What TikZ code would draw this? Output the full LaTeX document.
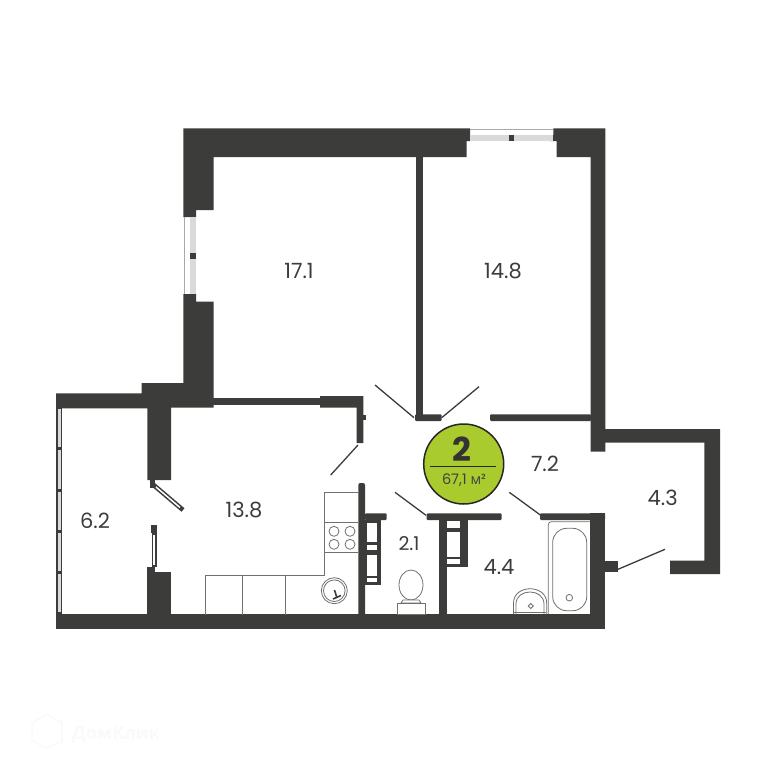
\documentclass[tikz,border=0pt]{standalone}
\usepackage{fontspec}
\setmainfont{Poppins}
\newfontfamily\cyr{Open Sans}
\definecolor{wallc}{HTML}{3C3C3B}
\definecolor{glass}{HTML}{DADADA}
\definecolor{fixt}{HTML}{707070}
\definecolor{badge}{HTML}{A9CB2E}
\definecolor{wm}{HTML}{FAFAFA}
\tikzset{
  wall/.style={fill=wallc,draw=none},
  glazing/.style={fill=glass,draw=none},
  blank/.style={fill=white,draw=none},
  doorleaf/.style={draw=wallc,line width=1.3pt},
  fixture/.style={draw=fixt,line width=0.8pt,fill=none},
  arealabel/.style={text=wallc,font=\fontsize{21}{21}\selectfont,inner sep=0pt},
}
\begin{document}
\begin{tikzpicture}[x=1pt,y=-1pt]
\useasboundingbox (0,0) rectangle (768,768);
\fill[white] (0,0) rectangle (768,768);
% top and main walls
\fill[wall] (183.3,128.3) -- (470,128.3) -- (470,141) -- (466.7,141) -- (466.7,157) -- (213.5,157) -- (213.5,210) -- (196,210) -- (196,217) -- (183.3,217) -- cycle;
\fill[wall] (553.3,128.3) -- (605.3,128.3) -- (605.3,451.7) -- (590.7,451.7) -- (590.7,157) -- (556.7,157) -- (556.7,141) -- (550,141) -- (550,135) -- (553.3,135) -- cycle;
% left wall lower pier and junction
\fill[wall] (183.3,294) -- (196,294) -- (196,301.7) -- (213.5,301.7) -- (213.5,407.7) -- (171,407.7) -- (171,480) -- (147.3,480) -- (147.3,408.3) -- (56,408.3) -- (56,393.3) -- (141.7,393.3) -- (141.7,383) -- (183.3,383) -- cycle;
% windows
\fill[glazing] (190,217) rectangle (196,294);
\fill[wall] (190,253) rectangle (196,259);
\draw[fixt!60,line width=0.6pt] (184.3,217) -- (184.3,294);
\fill[glazing] (470,135) rectangle (553,140.7);
\fill[wall] (508.5,135) rectangle (513.5,140.7);
\draw[fixt!60,line width=0.6pt] (470,129.5) -- (553,129.5);
% partition bedrooms
\fill[wall] (416,157) rectangle (422.7,415);
\fill[wall,rounded corners=1pt] (415,414.3) rectangle (441.7,421);
\fill[wall,rounded corners=1pt] (490,414.3) rectangle (591,421);
% kitchen top wall
\fill[wall] (213,397.7) rectangle (320,405);
\fill[wall] (320,396) -- (363.3,396) -- (363.3,443) -- (356.7,443) -- (356.7,407.7) -- (320,407.7) -- cycle;
\fill[wall] (363,415) rectangle (366,420);
% loggia
\fill[wall] (605,429) -- (720,429) -- (720,574) -- (670,574) -- (670,560.7) -- (704.3,560.7) -- (704.3,442.7) -- (605,442.7) -- cycle;
% bottom wall
\fill[wall] (56,614.3) rectangle (605,629);
% balcony glazing
\fill[wall] (56,408) rectangle (61.7,615);
\fill[glazing] (57.5,408.5) rectangle (60.5,447);
\fill[glazing] (57.5,450) rectangle (60.5,489);
\fill[glazing] (57.5,492) rectangle (60.5,530);
\fill[glazing] (57.5,533) rectangle (60.5,571);
\fill[glazing] (57.5,574) rectangle (60.5,612);
% balcony door pier
\fill[wall] (147.3,571.7) rectangle (171,615);
\fill[wall] (147.3,566.7) rectangle (155,572);
\fill[wall] (150,480) rectangle (155,488);
\draw[wallc,line width=4.6pt] (153,484.5) -- (183,510);
\draw[white,line width=1.5pt] (156,487) -- (180,507.5);
\fill[wall] (151,525) rectangle (156.7,533);
\fill[wall] (151.7,533) rectangle (157,567);
\fill[blank] (153.4,535) rectangle (155.3,565);
% kitchen right wall and vent
\fill[wall,rounded corners=2pt] (358.3,483) rectangle (365,616);
\fill[wall,rounded corners=1pt] (365,513.3) rectangle (386.7,520);
\fill[wall] (365,520) rectangle (381,585);
\fill[blank] (367,523.3) rectangle (376.7,541.7);
\fill[blank] (367,544.5) rectangle (376.7,549.5);
\fill[blank] (367,555) rectangle (376.7,576);
\fill[blank] (367,578) rectangle (376.7,582);
% wc / bath
\fill[wall,rounded corners=1pt] (426.7,513.3) rectangle (501.7,520);
\fill[wall] (439,520) rectangle (446.7,616);
\fill[wall] (446.7,520) rectangle (467.7,567);
\fill[blank] (446.7,520.7) rectangle (460,528);
\fill[blank] (446.7,531.7) rectangle (460,556.7);
\fill[blank] (446.7,558.5) rectangle (460,564.3);
\fill[wall,rounded corners=1pt] (540,513.3) rectangle (605,520);
\fill[wall] (590,513.3) rectangle (605,629);
\fill[wall] (605,560.7) rectangle (617.7,572.3);
% doors
\coordinate (d1a) at (358,445); \coordinate (d1b) at (330.7,475);
\coordinate (d2a) at (414,417.7); \coordinate (d2b) at (375,385);
\coordinate (d3a) at (441.7,417.7); \coordinate (d3b) at (479,386.7);
\coordinate (d4a) at (426,515.3); \coordinate (d4b) at (395,492.3);
\coordinate (d5a) at (541.7,516); \coordinate (d5b) at (509.3,492.3);
\coordinate (d6a) at (618,569.3); \coordinate (d6b) at (665,549.3);
\draw[doorleaf] (d1a) -- (d1b);
\draw[doorleaf] (d2a) -- (d2b);
\draw[doorleaf] (d3a) -- (d3b);
\draw[doorleaf] (d4a) -- (d4b);
\draw[doorleaf] (d5a) -- (d5b);
\draw[doorleaf] (d6a) -- (d6b);
% kitchen units
\draw[fixture] (358,492.3) -- (324,492.3) -- (324,575) -- (205.7,575) -- (205.7,614.5);
\draw[fixture] (324,522.3) -- (358,522.3);
\draw[fixture] (324,552.7) -- (358,552.7);
\draw[fixture] (242.7,575) -- (242.7,614.5);
\draw[fixture] (285,575) -- (285,614.5);
\draw[fixture] (334,531.3) circle (5);
\draw[fixture] (350,531.3) circle (5);
\draw[fixture] (334,544.3) circle (5);
\draw[fixture] (350,544.3) circle (5);
\draw[fixture] (334.3,590.7) circle (13);
\draw[fixture] (334.3,590.7) circle (10.8);
\draw[wallc,line width=1.6pt] (334.5,590) -- (337,598);
\draw[wallc,line width=1.6pt] (333,599) -- (341,595.5);
% toilet
\draw[fixture] (411,585) ellipse (12 and 15);
\draw[fixture,fill=white] (403,600) -- (419,600) -- (421,603) -- (401,603) -- cycle;
\draw[fixture,fill=white] (397.3,603) rectangle (425,614);
% wash basin
\draw[fixture] (513.5,614) -- (513.5,603) .. controls (513.5,584) and (546.7,584) .. (546.7,603) -- (546.7,614);
\draw[fixture] (516,614) -- (516,604) .. controls (516,588) and (544,588) .. (544,604) -- (544,614);
\draw[fixture] (514,612.5) -- (546,612.5);
\draw[fixture] (530.7,603.5) -- (533.2,606) -- (530.7,608.5) -- (528.2,606) -- cycle;
% bathtub
\draw[fixture,rounded corners=3pt] (548.3,614) -- (548.3,521.7) -- (590,521.7);
\draw[fixture,rounded corners=14pt] (552.7,528.3) rectangle (586.7,610.7);
\draw[fixture] (569.3,597.7) circle (3.3);
% badge
\node[circle,draw=black!85,line width=1.5pt,fill=badge,minimum size=80pt,inner sep=0pt] (badgec) at (463.7,464) {};
\coordinate (ruleL) at (430,466.7);
\coordinate (ruleR) at (495.7,466.7);
\draw[black!85,line width=1pt] (ruleL) -- (ruleR);
\node[text=black!80,inner sep=0pt,font=\fontsize{33}{33}\selectfont\bfseries] (rooms) at (462,449.5) {2};
\node[text=black!75,inner sep=0pt,font=\fontsize{14.5}{14.5}\selectfont] (total) at (464,480.5) {67,1 {\cyr м}²};
% labels
\node[arealabel] (a1) at (299,270.7) {17.1};
\node[arealabel] (a2) at (503,270.7) {14.8};
\node[arealabel] (a3) at (244,510) {13.8};
\node[arealabel] (a4) at (95,520.7) {6.2};
\node[arealabel,font=\fontsize{19}{19}\selectfont] (a5) at (409,544) {2.1};
\node[arealabel] (a6) at (499,567) {4.4};
\node[arealabel] (a7) at (545,464) {7.2};
\node[arealabel] (a8) at (662.7,498) {4.3};
% watermark
\node[text=wm,inner sep=0pt,anchor=west,font=\cyr\bfseries\fontsize{18}{18}\selectfont] (mark) at (72,735) {ДомКлик};
\draw[wm,line width=1.5pt] (47,714) -- (62,723) -- (62,741) -- (47,748) -- (32,741) -- (32,723) -- cycle;
\end{tikzpicture}
\end{document}
